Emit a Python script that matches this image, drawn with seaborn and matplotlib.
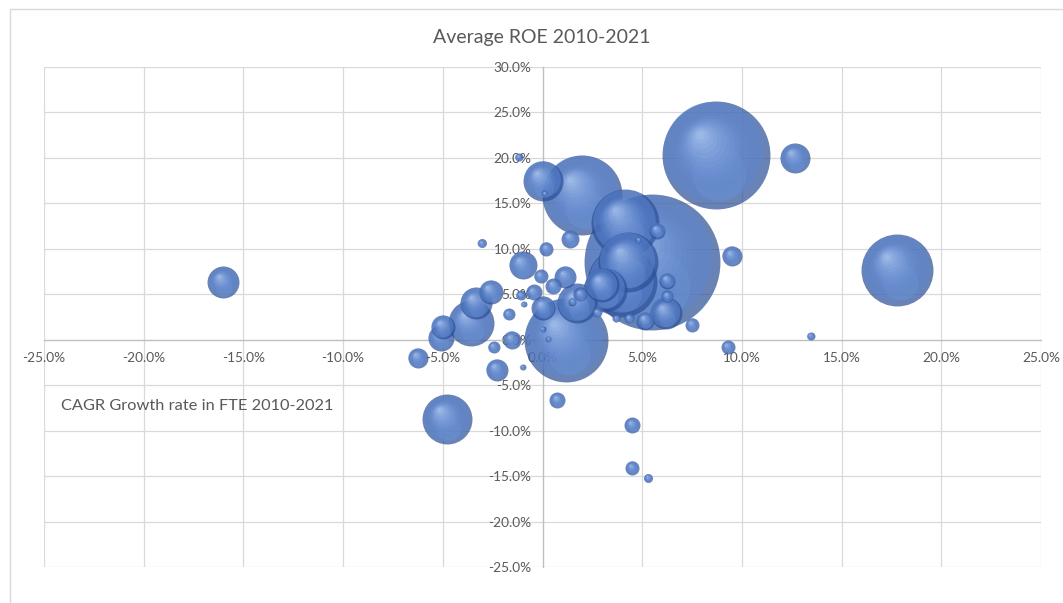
import numpy as np
import pandas as pd
import matplotlib
matplotlib.use("Agg")
import matplotlib.pyplot as plt
import seaborn as sns
from matplotlib.colors import to_rgb
from matplotlib.patches import Rectangle
from matplotlib.ticker import MultipleLocator, FuncFormatter

# CAGR growth rate in FTE 2010-2021 (%)
fte_cagr = [8.7, 12.65, 17.8, 5.5, 1.2, 2.0, 0.0, 4.15, 4.3, 4.0,
            3.15, 1.75, 6.2, -16.0, -4.8, -6.25, -5.0, -5.1, -3.6, -3.35,
            -2.6, -3.05, -1.2, 0.1, 1.4, 9.5, 6.25, 5.75, 4.8, 7.5,
            9.3, 4.35, 3.7, 5.15, 6.25, 0.2, -1.0, -0.1, -0.45, -1.1,
            -0.95, 0.55, 1.15, 1.9, 1.5, 0.05, -1.7, -1.55, -2.45, 0.0,
            0.3, -1.0, -2.3, 0.75, 4.5, 4.5, 5.3, 13.45, 2.75, 3.0]
# Average ROE 2010-2021 (%)
avg_roe = [20.3, 20.0, 7.65, 8.5, 0.0, 15.9, 17.5, 12.8, 8.5, 6.3,
           5.5, 4.0, 2.9, 6.3, -8.75, -2.0, 1.4, 0.2, 1.8, 4.0,
           5.3, 10.6, 20.1, 16.1, 11.1, 9.2, 6.5, 12.0, 11.0, 1.65,
           -0.8, 2.35, 2.35, 2.1, 4.8, 10.0, 8.2, 7.0, 5.2, 4.9,
           3.9, 5.9, 6.9, 5.0, 4.2, 3.5, 2.8, 0.0, -0.8, 1.2,
           0.1, -3.0, -3.3, -6.65, -9.4, -14.1, -15.2, 0.4, 3.0, 6.0]
# bubble size (relative)
bubble_size = [2916, 225, 1296, 4624, 1764, 1600, 400, 1156, 900, 1225,
               484, 400, 256, 256, 625, 100, 144, 169, 529, 256,
               144, 20, 16, 9, 81, 100, 64, 64, 9, 49,
               49, 25, 16, 81, 36, 49, 196, 49, 64, 25,
               9, 64, 121, 49, 16, 144, 36, 81, 36, 9,
               9, 9, 121, 64, 64, 49, 20, 16, 25, 289]

x_ticks = np.arange(-25, 26, 5)
y_ticks = np.arange(-25, 31, 5)

TEXT = "#595959"
GRID = "#D9D9D9"
DPI = 100
SIZE_SCALE = 2.07  # points^2 per bubble unit

sns.set_theme(style="white")
plt.rcParams["font.family"] = ["Lato", "DejaVu Sans"]

fig = plt.figure(figsize=(10.63, 6.03), dpi=DPI)
fig.patch.set_facecolor("white")
ax = fig.add_axes([44 / 1063, 1 - 567 / 603, 997 / 1063, 500 / 603])

ax.set_xlim(x_ticks[0], x_ticks[-1])
ax.set_ylim(y_ticks[0], y_ticks[-1])
ax.xaxis.set_major_locator(MultipleLocator(5))
ax.yaxis.set_major_locator(MultipleLocator(5))
fmt = FuncFormatter(lambda v, _: f"{v:.1f}%")
ax.xaxis.set_major_formatter(fmt)
ax.yaxis.set_major_formatter(fmt)
ax.grid(True, color=GRID, lw=0.9)
ax.set_axisbelow(True)

for side in ("top", "right"):
    ax.spines[side].set_visible(False)
for side in ("left", "bottom"):
    ax.spines[side].set_position(("data", 0))
    ax.spines[side].set_color("#BFBFBF")
    ax.spines[side].set_linewidth(0.9)

ax.tick_params(axis="both", length=0, labelsize=9.8, colors=TEXT)
ax.tick_params(axis="x", pad=9)
ax.tick_params(axis="y", pad=8)
ax.set_xlabel("")
ax.set_ylabel("")

df = pd.DataFrame({"fte_cagr": fte_cagr, "avg_roe": avg_roe, "size": bubble_size})
df = df.sort_values("size", ascending=False).reset_index(drop=True)

# pixels per data unit, used to place the shading highlights
p0 = ax.transData.transform((0, 0))
p1 = ax.transData.transform((1, 1))
ppx, ppy = p1[0] - p0[0], p1[1] - p0[1]

rim = np.array(to_rgb("#2B4F96"))
body = np.array(to_rgb("#5D86D0"))
glow = np.array(to_rgb("#C6DCFA"))
n_glow = 12


def blob(x, y, s, frac, off_x, off_y, color, alpha, z):
    """One shading disc of a bubble, shifted by a fraction of its radius."""
    r_px = np.sqrt(s) / 2 * DPI / 72
    ax.scatter([x + off_x * r_px / ppx], [y + off_y * r_px / ppy],
               s=s * frac ** 2, color=color, alpha=alpha, linewidths=0, zorder=z)


for i, row in df.iterrows():
    x, y = row["fte_cagr"], row["avg_roe"]
    s = row["size"] * SIZE_SCALE
    z = 3 + i * 0.1
    # dark rim of the sphere
    sns.scatterplot(x=[x], y=[y], s=s, color=rim, alpha=0.7, linewidth=0,
                    ax=ax, zorder=z, legend=False)
    # main body, nudged up-left so the rim darkens to the lower right
    blob(x, y, s, 0.92, -0.05, 0.07, body, 0.55, z + 0.001)
    # soft reflected light along the bottom
    blob(x, y, s, 0.5, 0.06, -0.34, body + (glow - body) * 0.3, 0.22, z + 0.002)
    # specular highlight toward the upper left
    for j in range(1, n_glow + 1):
        t = j / n_glow
        frac = 0.78 - 0.7 * t
        col = body + (glow - body) * t ** 1.2
        blob(x, y, s, frac, -0.26 * t - 0.04, 0.33 * t + 0.05, col, 0.17,
             z + 0.003 + 0.001 * j)

fig.text(542 / 1063, 1 - 37 / 603, "Average ROE 2010-2021", ha="center",
         va="center", fontsize=14, color=TEXT)
fig.text(61 / 1063, 1 - 406 / 603, "CAGR Growth rate in FTE 2010-2021",
         ha="left", va="center", fontsize=11.8, color=TEXT)

fig.patches.append(Rectangle((10 / 1063, -0.02), 1.2, 1 - 9 / 603 + 0.02,
                             transform=fig.transFigure, fill=False,
                             edgecolor=GRID, lw=1))

fig.savefig("out.png", dpi=DPI)
